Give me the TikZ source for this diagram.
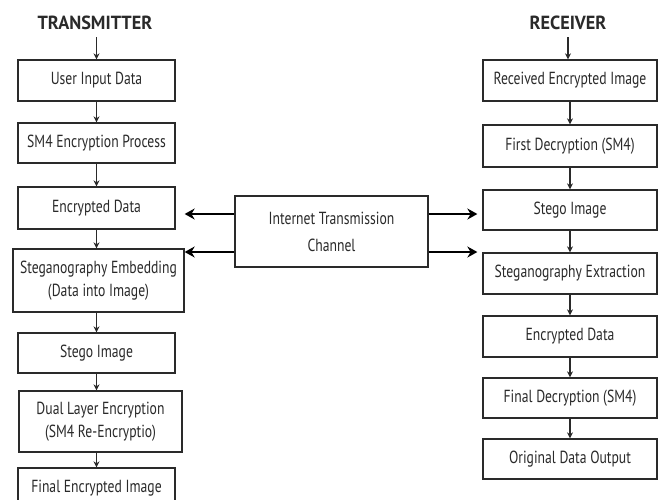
\documentclass[tikz,border=0pt]{standalone}
\usepackage{fontspec}
\setmainfont{PT Sans}[FakeStretch=0.78]
\newfontfamily\ttlfont{PT Sans}[FakeStretch=0.96]
\usetikzlibrary{arrows.meta}
\definecolor{ink}{HTML}{2A2A2A}
\tikzset{
  box/.style={draw=ink, line width=1.3pt, rectangle, align=center, text=ink,
    font=\fontsize{17.5}{23}\selectfont, inner sep=0pt},
  ttl/.style={text=ink, font=\ttlfont\fontsize{19}{22}\selectfont\bfseries},
  flow/.style={draw=ink, line width=1.2pt, -{Stealth[length=6pt,width=6pt]}},
  big/.style={draw=black, line width=2.6pt, -{Stealth[length=10pt,width=11pt]}}
}
\begin{document}
\begin{tikzpicture}[x=1pt,y=-1pt]
\useasboundingbox (0,0) rectangle (661,499);
\clip (0,0) rectangle (661,499);
\fill[white] (0,0) rectangle (661,499);
% titles
\node[ttl] (tt) at (95,23) {TRANSMITTER};
\node[ttl] (rt) at (568,23) {RECEIVER};
% left column
\node[box, minimum width=157pt, minimum height=41pt] (L1) at (96.5,80.5) {User Input Data};
\node[box, minimum width=157pt, minimum height=40pt] (L2) at (96.5,143) {SM4 Encryption Process};
\node[box, minimum width=157pt, minimum height=42pt] (L3) at (96.5,208) {Encrypted Data};
\node[box, minimum width=171pt, minimum height=63pt] (L4) at (98.5,280.5) {Steganography Embedding\\(Data into Image)};
\node[box, minimum width=157pt, minimum height=40pt] (L5) at (96.5,353) {Stego Image};
\node[box, minimum width=163pt, minimum height=61pt] (L6) at (100.5,421.5) {Dual Layer Encryption\\(SM4 Re-Encryptio)};
\node[box, minimum width=157pt, minimum height=42pt] (L7) at (96.5,489) {\raisebox{6pt}{Final Encrypted Image}};
% right column
\node[box, minimum width=174pt, minimum height=41pt] (R1) at (570,80.5) {Received Encrypted Image};
\node[box, minimum width=174pt, minimum height=42pt] (R2) at (570,146) {First Decryption (SM4)};
\node[box, minimum width=174pt, minimum height=40pt] (R3) at (570,210) {Stego Image};
\node[box, minimum width=174pt, minimum height=41pt] (R4) at (570,273.5) {Steganography Extraction};
\node[box, minimum width=174pt, minimum height=41pt] (R5) at (570,336.5) {Encrypted Data};
\node[box, minimum width=174pt, minimum height=40pt] (R6) at (570,398) {Final Decryption (SM4)};
\node[box, minimum width=174pt, minimum height=40pt] (R7) at (570,459) {Original Data Output};
% channel
\node[box, minimum width=193pt, minimum height=71pt, font=\fontsize{17.5}{27}\selectfont] (ch) at (331.5,231.5) {Internet Transmission\\Channel};
% vertical flows left
\draw[flow] ([yshift=-4pt]tt.south -| L1.north) -- (L1.north);
\draw[flow] (L1.south) -- (L2.north);
\draw[flow] (L2.south) -- (L3.north);
\draw[flow] (L3.south) -- (L3.south |- L4.north);
\draw[flow] (L3.south |- L4.south) -- (L5.north);
\draw[flow] (L5.south) -- (L5.south |- L6.north);
\draw[flow] (L5.south |- L6.south) -- (L7.north);
% vertical flows right
\draw[flow] ([yshift=-4pt]rt.south) -- (rt.south |- R1.north);
\draw[flow] (R1.south) -- (R2.north);
\draw[flow] (R2.south) -- (R3.north);
\draw[flow] (R3.south) -- (R4.north);
\draw[flow] (R4.south) -- (R5.north);
\draw[flow] (R5.south) -- (R6.north);
\draw[flow] (R6.south) -- (R7.north);
% channel arrows
\draw[big] ([yshift=17.5pt]ch.west) -- ([yshift=17.5pt]ch.west -| L4.east);
\draw[big] ([yshift=-20.5pt]ch.west) -- ([yshift=-20.5pt]ch.west -| L4.east);
\draw[big, shorten >=5pt] ([yshift=17.5pt]ch.east) -- ([yshift=17.5pt]ch.east -| R3.west);
\draw[big, shorten >=5pt] ([yshift=-20.5pt]ch.east) -- ([yshift=-20.5pt]ch.east -| R4.west);
\end{tikzpicture}
\end{document}
